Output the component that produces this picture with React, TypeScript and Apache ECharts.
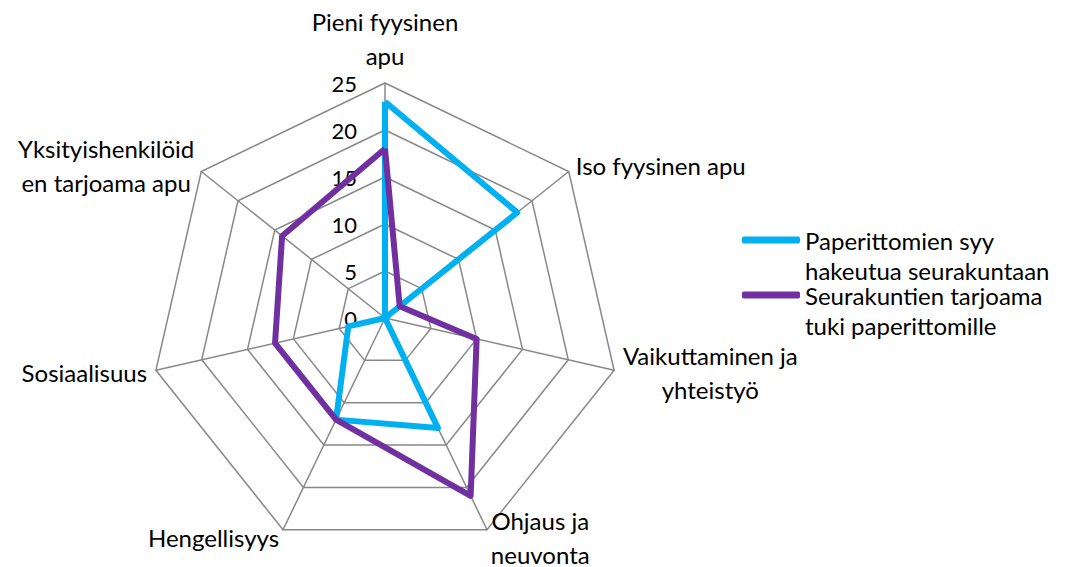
import React, { useEffect, useRef } from "react";
import * as echarts from "echarts";

// Categories listed clockwise starting from the top
const categories = [
  "Pieni fyysinen\napu",
  "Iso fyysinen apu",
  "Vaikuttaminen ja\nyhteistyö",
  "Ohjaus ja\nneuvonta",
  "Hengellisyys",
  "Sosiaalisuus",
  "Yksityishenkilöid\nen tarjoama apu",
];
const seriesNames = [
  "Paperittomien syy\nhakeutua seurakuntaan",
  "Seurakuntien tarjoama\ntuki paperittomille",
];
const paperittomat = [23, 18, 0, 13, 12, 4, 0];
const seurakunnat = [18, 2, 10, 21, 12, 12, 14];
const axisMax = 25;
const axisSplits = 5;

const FONT = "Lato";

// ECharts radar runs counter-clockwise; reorder so the categories run clockwise
const order = [0, ...categories.slice(1).map((_, i) => categories.length - 1 - i)];
const reorder = <T,>(arr: T[]) => order.map((i) => arr[i]);

export default function App() {
  const ref = useRef<HTMLDivElement>(null);
  useEffect(() => {
    if (!ref.current) return;
    const chart = echarts.init(ref.current, null, { renderer: "svg" });
    chart.setOption({
      animation: false,
      backgroundColor: "#ffffff",
      color: ["#00B0F0", "#7030A0"],
      legend: {
        orient: "vertical",
        left: 737,
        top: 190,
        itemWidth: 58,
        itemHeight: 7,
        itemGap: -35,
        icon: "roundRect",
        data: seriesNames,
        // blank first line keeps the icon level with the first text line
        formatter: (name: string) => " \n" + name,
        textStyle: {
          fontFamily: FONT,
          fontSize: 24,
          color: "#000",
          lineHeight: 30,
        },
      },
      radar: {
        center: [385, 318],
        radius: 235,
        startAngle: 90,
        splitNumber: axisSplits,
        shape: "polygon",
        nameGap: 9,
        axisName: {
          color: "#000",
          fontFamily: FONT,
          fontSize: 24,
          lineHeight: 35,
          formatter: (name: string) =>
            name
              .split("\n")
              .map((l) => `{c|${l}}`)
              .join("\n"),
          rich: {
            c: {
              align: "center",
              color: "#000",
              fontFamily: FONT,
              fontSize: 24,
              lineHeight: 34,
            },
          },
        },
        splitArea: { show: false },
        splitLine: { lineStyle: { color: "#888888", width: 1.5 } },
        axisLine: { lineStyle: { color: "#888888", width: 1.5 } },
        axisLabel: { show: false },
        indicator: reorder(categories).map((name, i) => ({
          name,
          min: 0,
          max: axisMax,
          ...(i === 0
            ? {
                axisLabel: {
                  show: true,
                  color: "#000",
                  fontFamily: FONT,
                  fontSize: 22,
                  margin: 28,
                },
              }
            : {}),
        })),
      },
      series: [
        {
          type: "radar",
          symbol: "none",
          data: [
            { name: seriesNames[0], value: reorder(paperittomat), lineStyle: { width: 6, color: "#00B0F0" } },
            { name: seriesNames[1], value: reorder(seurakunnat), lineStyle: { width: 6, color: "#7030A0" } },
          ],
        },
      ],
    });
    return () => chart.dispose();
  }, []);
  return (
    <div
      ref={ref}
      style={{ position: "absolute", left: 0, top: 0, width: 1068, height: 567 }}
    />
  );
}
